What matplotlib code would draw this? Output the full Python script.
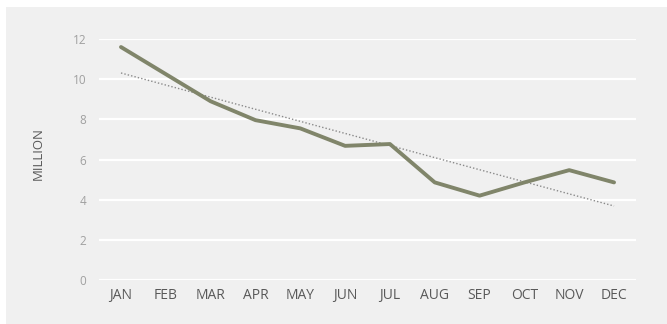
import matplotlib
matplotlib.use("Agg")
import matplotlib.pyplot as plt
import numpy as np
from matplotlib.patches import Rectangle

months = ["JAN", "FEB", "MAR", "APR", "MAY", "JUN", "JUL", "AUG", "SEP", "OCT", "NOV", "DEC"]
values = [11.6, 10.25, 8.9, 7.96, 7.55, 6.68, 6.77, 4.86, 4.2, 4.86, 5.47, 4.86]
yticks = [0, 2, 4, 6, 8, 10, 12]

plt.rcParams['font.family'] = ['Open Sans', 'DejaVu Sans']

fig = plt.figure(figsize=(6.67, 3.24), dpi=100, facecolor="white")
bg = Rectangle((6 / 667, 0), 1, 1 - 7 / 324, transform=fig.transFigure,
               facecolor="#f0f0f0", edgecolor="none", zorder=-10)
fig.patches.append(bg)

ax = fig.add_axes([0.1478, 0.1358, 0.8064, 0.7438])
ax.set_facecolor("none")
ax.set_zorder(1)
x = np.arange(len(months))
ax.plot(x, values, color="#80856a", lw=2.8, solid_capstyle="round", solid_joinstyle="round", zorder=3)

coef = np.polyfit(x, values, 1)
trend = np.polyval(coef, x)
ax.plot(x, trend, color="#8a8a8a", lw=1.0, linestyle=(0, (1, 1.5)), zorder=2)

ax.set_xlim(-0.5, len(months) - 0.5)
ax.set_ylim(0, 12)
ax.set_yticks(yticks)
ax.set_yticklabels([str(v) for v in yticks])
ax.set_xticks(x)
ax.set_xticklabels(months)
ax.grid(axis="y", color="white", lw=1.6)
ax.set_axisbelow(True)
for s in ax.spines.values():
    s.set_visible(False)
ax.tick_params(axis="y", length=0, pad=9, labelsize=8.5, labelcolor="#a0a0a0")
ax.tick_params(axis="x", length=0, pad=6, labelsize=10, labelcolor="#595959")
ax.set_ylabel("MILLION", fontsize=9.5, color="#595959")
ax.yaxis.set_label_coords(-0.100, 0.525)

fig.savefig("out.png", dpi=100, facecolor="white")
